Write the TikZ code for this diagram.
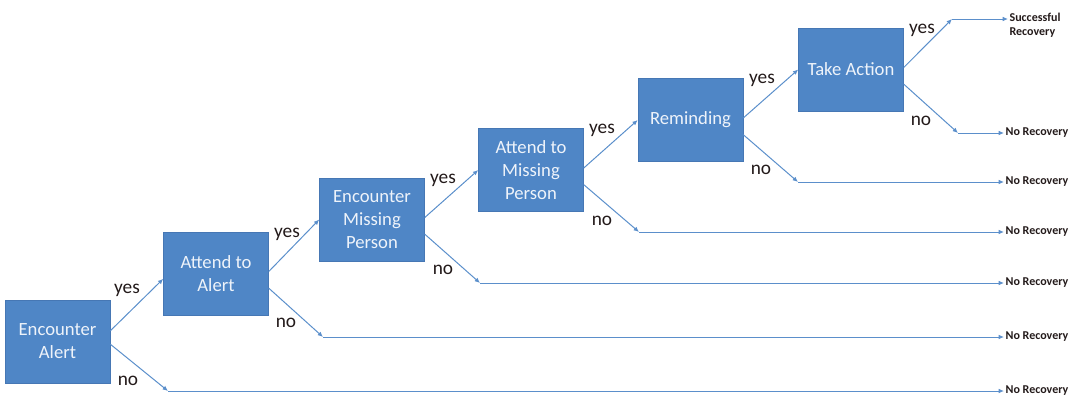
\documentclass[tikz,border=0pt]{standalone}
\usepackage{fontspec}
\setmainfont{Carlito}
\definecolor{recBlue}{HTML}{4F86C6}
\definecolor{recEdge}{HTML}{4677B4}
\definecolor{recLine}{HTML}{5B8FCB}
\definecolor{recText}{HTML}{EEF3FA}
\definecolor{recInk}{HTML}{231A1A}
\usetikzlibrary{
	arrows.meta,
	positioning
}
\tikzset{
	etapa/.style={
		draw=recEdge,
		fill=recBlue,
		text=recText,
		align=center,
		minimum width=78.75pt,
		minimum height=62.25pt,
		inner sep=2pt,
		font=\fontsize{14}{17.25}\selectfont
	},
	rama/.style={
		text=recInk,
		inner sep=1pt,
		font=\fontsize{14.5}{17}\selectfont
	},
	desenlace/.style={
		text=recInk,
		anchor=west,
		align=left,
		inner sep=1pt,
		font=\fontsize{9}{10.5}\selectfont\bfseries
	},
	flechaRama/.style={
		-{Latex[length=4pt,width=3.5pt]},
		line width=0.75pt,
		recLine
	}
}

\begin{document}
\begin{tikzpicture}[x=0.75pt, y=-0.75pt]
		\useasboundingbox (0,0) rectangle (1082,401);
		% stages
		\node[etapa] (b1) at (57.5,341.5) {Encounter\\Alert};
		\node[etapa] (b2) at (216,273.5) {Attend to\\Alert};
		\node[etapa] (b3) at (372,219.5) {Encounter\\Missing\\Person};
		\node[etapa] (b4) at (531,170) {Attend to\\Missing\\Person};
		\node[etapa] (b5) at (690.5,120) {Reminding};
		\node[etapa] (b6) at (851,69.5) {Take Action};
		% end points of the no branches
		\coordinate (j1) at (168,391);
		\coordinate (j2) at (323,337);
		\coordinate (j3) at (480,283);
		\coordinate (j4) at (639,232);
		\coordinate (j5) at (798,182);
		\coordinate (j6) at (958,133);
		\coordinate (jy) at (952,19);
		% outcomes
		\node[desenlace] (o1) at (1004,391) {No Recovery};
		\node[desenlace] (o2) at (1004,337) {No Recovery};
		\node[desenlace] (o3) at (1004,283) {No Recovery};
		\node[desenlace] (o4) at (1004,232) {No Recovery};
		\node[desenlace] (o5) at (1004,182) {No Recovery};
		\node[desenlace] (o6) at (1004,133) {No Recovery};
		\node[desenlace] (o7) at (1008,25) {Successful\\Recovery};
		% yes branches
		\draw[flechaRama] ([yshift=8pt]b1.east) -- ([yshift=-4pt]b2.west);
		\draw[flechaRama] ([yshift=1.5pt]b2.east) -- (b3.west);
		\draw[flechaRama] ([yshift=1.5pt]b3.east) -- (b4.west);
		\draw[flechaRama] ([yshift=1.5pt]b4.east) -- (b5.west);
		\draw[flechaRama] ([yshift=1.5pt]b5.east) -- (b6.west);
		\draw[flechaRama] ([yshift=1.5pt]b6.east) -- (jy);
		\draw[flechaRama] (jy) -- (jy -| o7.west);
		% no branches
		\draw[flechaRama] ([yshift=-2pt]b1.east) -- (j1);
		\draw[flechaRama] ([yshift=-11pt]b2.east) -- (j2);
		\draw[flechaRama] ([yshift=-11pt]b3.east) -- (j3);
		\draw[flechaRama] ([yshift=-11pt]b4.east) -- (j4);
		\draw[flechaRama] ([yshift=-11pt]b5.east) -- (j5);
		\draw[flechaRama] ([yshift=-11pt]b6.east) -- (j6);
		\draw[flechaRama] (j1) -- (o1.west);
		\draw[flechaRama] (j2) -- (o2.west);
		\draw[flechaRama] (j3) -- (o3.west);
		\draw[flechaRama] (j4) -- (o4.west);
		\draw[flechaRama] (j5) -- (o5.west);
		\draw[flechaRama] (j6) -- (o6.west);
		% branch labels
		\node[rama] (y1) at (127,290) {yes};
		\node[rama] (n1) at (128,381) {no};
		\node[rama] (y2) at (287,234) {yes};
		\node[rama] (n2) at (286,323) {no};
		\node[rama] (y3) at (443,180) {yes};
		\node[rama] (n3) at (443,270) {no};
		\node[rama] (y4) at (602,130) {yes};
		\node[rama] (n4) at (602,221) {no};
		\node[rama] (y5) at (762,80) {yes};
		\node[rama] (n5) at (761,170) {no};
		\node[rama] (y6) at (922,30) {yes};
		\node[rama] (n6) at (921,121) {no};
	\end{tikzpicture}
\end{document}
